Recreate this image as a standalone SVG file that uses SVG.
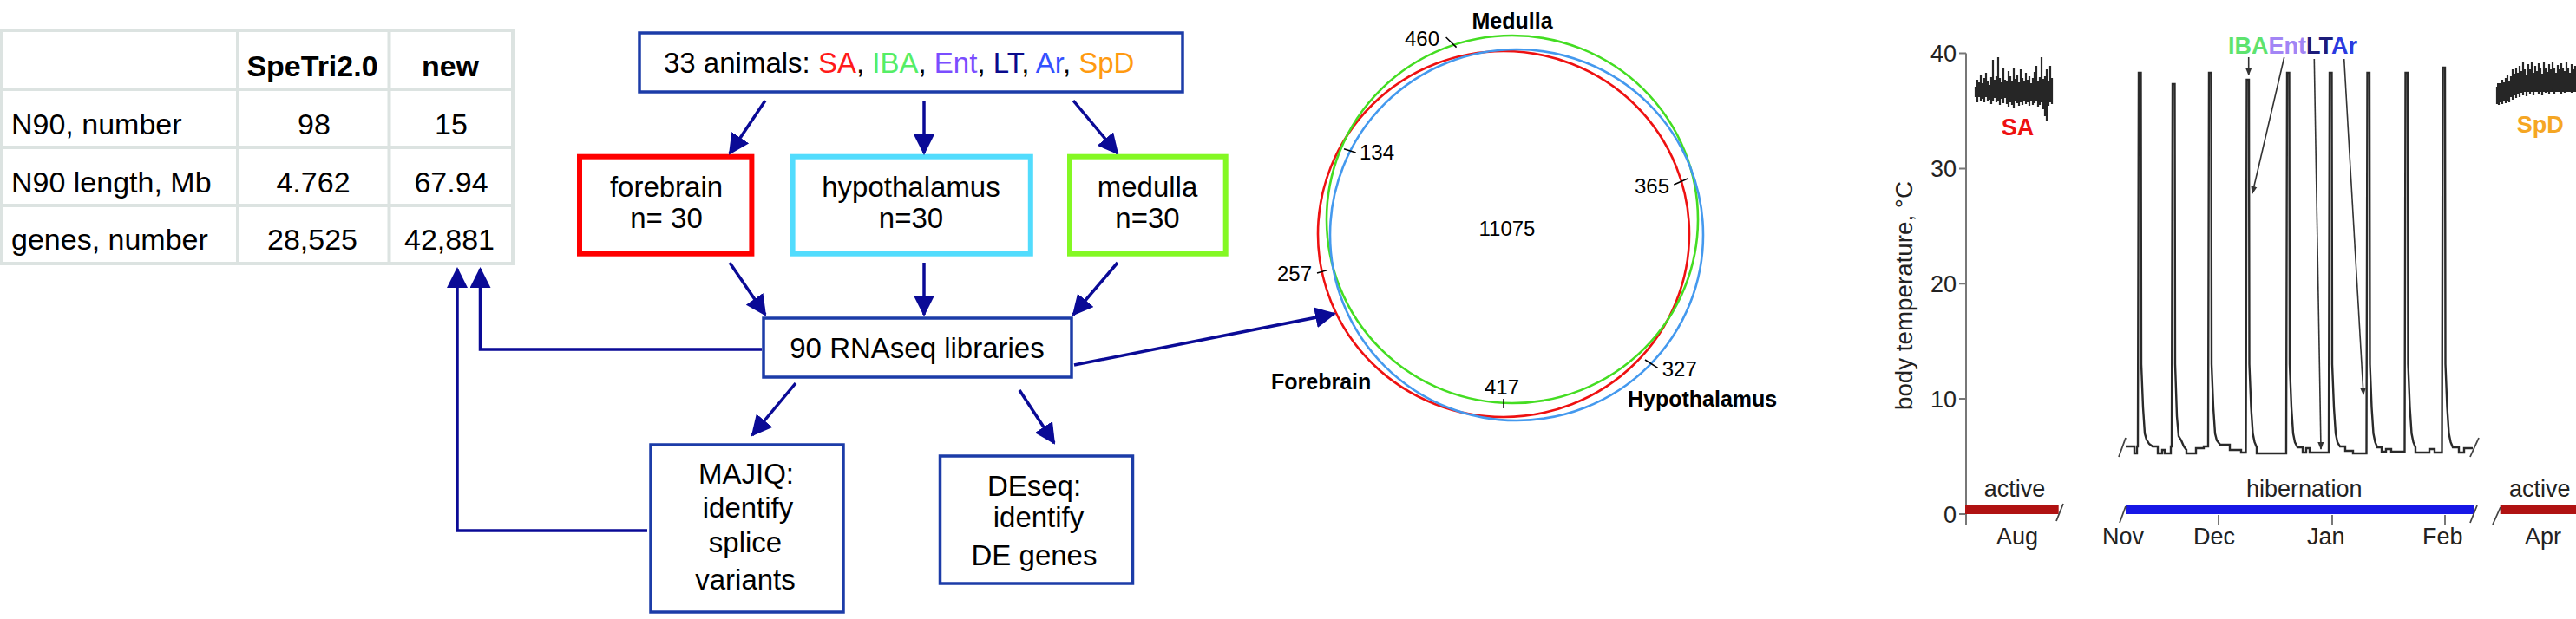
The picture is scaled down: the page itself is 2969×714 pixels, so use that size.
<svg xmlns="http://www.w3.org/2000/svg" width="2969" height="714" viewBox="0 0 2969 714">
<style>
text{font-family:"Liberation Sans",Arial,Helvetica,sans-serif}
.tb{font-size:34px}
.tbh{font-size:34px;font-weight:bold}
.grid{stroke:#dce3e1;stroke-width:4;fill:none}
.box{fill:#fff;stroke:#1c3ca8;stroke-width:3.5}
.fb{font-size:33px}
.conn{stroke:#0a0a96;stroke-width:3.5;fill:none}
.venn{fill:none;stroke-width:2.6}
.vn{font-size:24px}
.vl{font-size:25px;font-weight:bold}
.tick{stroke:#000;stroke-width:1.5}
.ax{stroke:#777;stroke-width:2;fill:none}
.axt{font-size:27px;fill:#222}
.trace{stroke:#2a2a2a;stroke-width:2.4;fill:none;stroke-linejoin:miter}
.noise{stroke:#262626;stroke-width:2.2;fill:none}
.lab{font-size:27px;font-weight:bold}
.sarr{stroke:#333;stroke-width:1.6;fill:none}
.brk{stroke:#444;stroke-width:1.8}
</style>
<defs>
<marker id="ah" viewBox="0 0 24 24" markerWidth="24" markerHeight="24" refX="22" refY="12" orient="auto" markerUnits="userSpaceOnUse"><path d="M0,0 L24,12 L0,24 z" fill="#0a0a96"/></marker>
<marker id="sah" viewBox="0 0 10 10" markerWidth="9" markerHeight="9" refX="9" refY="5" orient="auto" markerUnits="userSpaceOnUse"><path d="M0,1 L10,5 L0,9 z" fill="#333"/></marker>
</defs>
<rect width="2969" height="714" fill="#fff"/>

<g id="table">
<rect x="2" y="35" width="589" height="269" fill="#fff"/>
<path class="grid" d="M2,35H591V304H2Z M274,35V304 M448.5,35V304 M2,103H591 M2,170H591 M2,237H591"/>
<text class="tbh" x="360" y="88" text-anchor="middle">SpeTri2.0</text>
<text class="tbh" x="519" y="88" text-anchor="middle">new</text>
<text class="tb" x="13" y="155">N90, number</text>
<text class="tb" x="362" y="155" text-anchor="middle">98</text>
<text class="tb" x="520" y="155" text-anchor="middle">15</text>
<text class="tb" x="13" y="222">N90 length, Mb</text>
<text class="tb" x="361" y="222" text-anchor="middle">4.762</text>
<text class="tb" x="520" y="222" text-anchor="middle">67.94</text>
<text class="tb" x="13" y="288">genes, number</text>
<text class="tb" x="360" y="288" text-anchor="middle">28,525</text>
<text class="tb" x="518" y="288" text-anchor="middle">42,881</text>
</g>

<g id="animals">
<rect class="box" x="737" y="38" width="626" height="68"/>
<text class="fb" x="765" y="84">33 animals: <tspan fill="#ff1a1a">SA</tspan>, <tspan fill="#55ee66">IBA</tspan>, <tspan fill="#7a4dff">Ent</tspan>, <tspan fill="#0a0a8c">LT</tspan>, <tspan fill="#3352ff">Ar</tspan>, <tspan fill="#ff9a10">SpD</tspan></text>
</g>
<g id="forebrain">
<rect x="668" y="180.7" width="198.4" height="112" fill="#fff" stroke="#ff0000" stroke-width="6"/>
<text class="fb" x="768" y="227" text-anchor="middle">forebrain</text>
<text class="fb" x="768" y="263" text-anchor="middle">n= 30</text>
</g>
<g id="hypothalamus">
<rect x="913.6" y="180.7" width="274.2" height="112" fill="#fff" stroke="#52dcfd" stroke-width="6"/>
<text class="fb" x="1050" y="227" text-anchor="middle">hypothalamus</text>
<text class="fb" x="1050" y="263" text-anchor="middle">n=30</text>
</g>
<g id="medulla">
<rect x="1233" y="180.7" width="179.7" height="112" fill="#fff" stroke="#84f823" stroke-width="6"/>
<text class="fb" x="1322.5" y="227" text-anchor="middle">medulla</text>
<text class="fb" x="1322.5" y="263" text-anchor="middle">n=30</text>
</g>
<g id="rnaseq">
<rect class="box" x="880" y="367" width="355" height="68"/>
<text class="fb" x="1057" y="413" text-anchor="middle">90 RNAseq libraries</text>
</g>
<g id="majiq">
<rect class="box" x="750" y="513" width="222" height="193"/>
<text class="fb" x="860" y="558" text-anchor="middle">MAJIQ:</text>
<text class="fb" x="862" y="597" text-anchor="middle">identify</text>
<text class="fb" x="859" y="637" text-anchor="middle">splice</text>
<text class="fb" x="859" y="680" text-anchor="middle">variants</text>
</g>
<g id="deseq">
<rect class="box" x="1083.5" y="526" width="222" height="147"/>
<text class="fb" x="1192" y="572" text-anchor="middle">DEseq:</text>
<text class="fb" x="1197" y="608" text-anchor="middle">identify</text>
<text class="fb" x="1192" y="652" text-anchor="middle">DE genes</text>
</g>

<g id="venn">
<ellipse class="venn" cx="1733" cy="270" rx="214" ry="211" stroke="#ee1111"/>
<ellipse class="venn" cx="1743" cy="253" rx="214" ry="212" stroke="#44dd22"/>
<ellipse class="venn" cx="1748" cy="271" rx="215" ry="214" stroke="#4499ee"/>
<text class="vl" x="1696.5" y="33">Medulla</text>
<text class="vn" x="1619" y="53">460</text>
<line class="tick" x1="1666.6" y1="43" x2="1678.6" y2="54.6"/>
<text class="vn" x="1567" y="183.5">134</text>
<line class="tick" x1="1549" y1="171.7" x2="1562.6" y2="176"/>
<text class="vn" x="1884" y="223">365</text>
<line class="tick" x1="1929.3" y1="213" x2="1945.7" y2="205.8"/>
<text class="vn" x="1704.5" y="272">11075</text>
<text class="vn" x="1472" y="324">257</text>
<line class="tick" x1="1518" y1="315" x2="1530" y2="311.5"/>
<text class="vl" x="1465" y="448.6">Forebrain</text>
<text class="vn" x="1711" y="455">417</text>
<line class="tick" x1="1733" y1="460" x2="1733" y2="471"/>
<text class="vn" x="1915.7" y="434">327</text>
<line class="tick" x1="1896" y1="415" x2="1910.7" y2="424.4"/>
<text class="vl" x="1876" y="469">Hypothalamus</text>
</g>

<g id="connectors">
<line class="conn" x1="882" y1="116" x2="841" y2="177" marker-end="url(#ah)"/>
<line class="conn" x1="1065" y1="116" x2="1065" y2="177" marker-end="url(#ah)"/>
<line class="conn" x1="1237" y1="116" x2="1288" y2="177" marker-end="url(#ah)"/>
<line class="conn" x1="841" y1="303" x2="882" y2="363" marker-end="url(#ah)"/>
<line class="conn" x1="1065" y1="303" x2="1065" y2="363" marker-end="url(#ah)"/>
<line class="conn" x1="1288" y1="303" x2="1237" y2="363" marker-end="url(#ah)"/>
<line class="conn" x1="917" y1="442" x2="867" y2="502" marker-end="url(#ah)"/>
<line class="conn" x1="1175" y1="450" x2="1215" y2="511" marker-end="url(#ah)"/>
<line class="conn" x1="1238" y1="421" x2="1538" y2="362" marker-end="url(#ah)"/>
<polyline class="conn" points="878,403 553.5,403 553.5,310" marker-end="url(#ah)"/>
<polyline class="conn" points="746,612 527,612 527,310" marker-end="url(#ah)"/>
</g>

<g id="chart">
<path class="ax" d="M2266,61.5V606 M2258,61.5H2266 M2258,194.4H2266 M2258,327.2H2266 M2258,460.1H2266 M2258,593H2266 M2557,594V606 M2688,594V606 M2818,594V606"/>
<text class="axt" x="2255" y="71" text-anchor="end">40</text>
<text class="axt" x="2255" y="204" text-anchor="end">30</text>
<text class="axt" x="2255" y="337" text-anchor="end">20</text>
<text class="axt" x="2255" y="470" text-anchor="end">10</text>
<text class="axt" x="2255" y="602.5" text-anchor="end">0</text>
<text class="axt" transform="translate(2204,341) rotate(-90)" text-anchor="middle" font-size="26" textLength="264" lengthAdjust="spacingAndGlyphs">body temperature, °C</text>

<rect x="2265" y="582" width="107.7" height="11" fill="#b01212"/>
<rect x="2450" y="582" width="401" height="11" fill="#1717e6"/>
<rect x="2881.7" y="582" width="87.3" height="11" fill="#b01212"/>
<path class="brk" d="M2370,601L2378,581 M2443,603L2450,584 M2847,603L2855,583 M2873,605L2882,585 M2442,527L2450,505 M2847,527L2857,505"/>
<text class="axt" x="2286.7" y="573">active</text>
<text class="axt" x="2589" y="573">hibernation</text>
<text class="axt" x="2892" y="573">active</text>
<text class="axt" x="2301" y="628">Aug</text>
<text class="axt" x="2423" y="628">Nov</text>
<text class="axt" x="2528" y="628">Dec</text>
<text class="axt" x="2659" y="628">Jan</text>
<text class="axt" x="2792" y="628">Feb</text>
<text class="axt" x="2910" y="628">Apr</text>

<rect x="2277" y="99" width="89" height="13" fill="#262626"/>
<path class="noise" d="M2277,100V112M2279,92V118M2281,95V110M2283,86V116M2285,96V114M2287,90V118M2289,84V112M2291,94V117M2293,98V115M2295,89V120M2297,69V116M2299,92V113M2301,88V118M2303,66V117M2305,90V121M2307,95V114M2309,78V119M2311,92V113M2313,94V120M2315,82V123M2317,88V118M2319,93V121M2321,79V124M2323,91V117M2325,86V119M2327,95V122M2329,80V118M2331,90V121M2333,94V116M2335,84V120M2337,92V118M2339,88V122M2341,96V117M2343,90V121M2345,83V119M2347,76V116M2349,93V123M2351,89V121M2353,66V118M2355,91V126M2357,88V134M2359,80V140M2361,94V122M2363,76V118M2365,90V120"/>
<text class="lab" x="2306.7" y="156" style="fill:#ee1111">SA</text>

<rect x="2878" y="96" width="91" height="10" fill="#262626"/>
<path class="noise" d="M2878,100V120M2880,96V121M2882,98V118M2884,92V120M2886,95V117M2888,90V119M2890,86V116M2892,93V118M2894,88V112M2896,80V115M2898,85V110M2900,78V113M2902,84V108M2904,76V112M2906,82V107M2908,72V110M2910,80V106M2912,86V111M2914,74V105M2916,80V109M2918,71V104M2920,84V110M2922,76V106M2924,82V103M2926,73V108M2928,79V105M2930,85V110M2932,72V104M2934,78V107M2936,83V103M2938,74V109M2940,80V105M2942,71V102M2944,78V108M2946,84V104M2948,75V106M2950,80V103M2952,73V108M2954,78V104M2956,82V107M2958,72V103M2960,79V106M2962,84V104M2964,74V107M2966,80V103M2968,76V105"/>
<text class="lab" x="2900.7" y="152.5" style="fill:#f5a623">SpD</text>

<path class="trace" d="M2450,515H2460V523H2463V515H2464L2465,84H2467.5L2468,420L2470,470L2472,500L2474,507L2477,512L2481,515H2487V523H2492V519H2495V523H2502V515H2503L2504,97H2506.5L2507,420L2509,480L2511,503L2514,508L2517,515L2520,519V523H2531V517H2540V515H2545L2546,84H2548.5L2549,420L2551,470L2553,500L2555,508L2559,513H2570V519H2583V522H2588.5L2589.5,92H2592L2592.5,420L2594.5,470L2596.5,500L2598.5,510L2601,516V523H2635L2636,84H2638.5L2639,420L2641,470L2643,500L2645,510L2648,516H2654V522H2658V517H2662V522H2684L2685,84H2687.5L2688,420L2690,470L2692,500L2694,510L2697,515H2703V520H2712V523H2727.5L2728.5,84H2731L2731.5,420L2733.5,470L2735.5,500L2737.5,510L2740,516H2745V521H2750V518H2756V521H2771.5L2772.5,84H2775L2775.5,420L2777.5,470L2779.5,500L2781.5,510L2784,516V522H2800V518H2806V522H2814.5L2815.5,78H2818L2818.5,420L2820.5,470L2822.5,500L2824.5,510L2827,516H2834V522H2840V517H2850"/>

<text class="lab" x="2568" y="61.5"><tspan fill="#5ee36e">IBA</tspan><tspan fill="#a285f5">Ent</tspan><tspan fill="#1c1c7a">LT</tspan><tspan fill="#2a3ae0">Ar</tspan></text>
<line class="sarr" x1="2591.7" y1="66" x2="2591.7" y2="86.5" marker-end="url(#sah)"/>
<line class="sarr" x1="2632.7" y1="66" x2="2596" y2="223" marker-end="url(#sah)"/>
<line class="sarr" x1="2667.3" y1="68" x2="2675" y2="518" marker-end="url(#sah)"/>
<line class="sarr" x1="2701.7" y1="68" x2="2724" y2="455" marker-end="url(#sah)"/>
</g>
</svg>
